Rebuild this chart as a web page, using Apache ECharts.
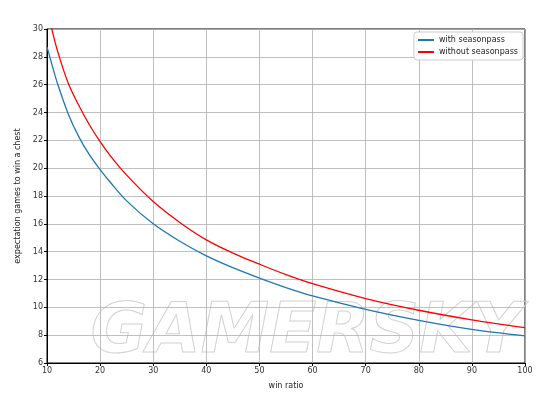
<!DOCTYPE html>
<html>
<head>
<meta charset="utf-8">
<script src="https://cdn.jsdelivr.net/npm/echarts@6/dist/echarts.min.js"></script>
<style>html,body{margin:0;padding:0;background:#fff}#c{width:550px;height:400px}</style>
</head>
<body>
<div id="c"></div>
<script>
var winRatio = [10, 11, 12, 14, 16, 18, 20, 22, 25, 30, 35, 40, 45, 50, 55, 60, 70, 80, 90, 100];
var withSeasonpass = [28.72, 27.35, 26.05, 23.9, 22.25, 20.95, 19.9, 18.95, 17.65, 16.0, 14.75, 13.7, 12.85, 12.1, 11.42, 10.82, 9.86, 9.07, 8.42, 7.95];
var withoutSeasonpass = [31.4, 29.85, 28.4, 26.1, 24.5, 23.1, 21.9, 20.85, 19.5, 17.6, 16.1, 14.85, 13.9, 13.1, 12.35, 11.7, 10.63, 9.79, 9.1, 8.54];
var seriesNames = ['with seasonpass', 'without seasonpass'];

function pairs(xs, ys) { return xs.map(function (x, i) { return [x, ys[i]]; }); }

var font = 'DejaVu Sans';
var chart = echarts.init(document.getElementById('c'), null, {renderer: 'canvas'});
chart.setOption({
  animation: false,
  textStyle: {fontFamily: font},
  grid: {left: 47, right: 25, top: 29, bottom: 37, show: true, borderColor: '#000', borderWidth: 1, backgroundColor: 'transparent'},
  xAxis: {
    type: 'value', min: 10, max: 100, interval: 10,
    name: 'win ratio', nameLocation: 'middle', nameGap: 19,
    nameTextStyle: {fontSize: 8, color: '#222', fontFamily: font},
    axisLine: {show: true, lineStyle: {color: '#000', width: 1}},
    axisTick: {show: true, inside: false, length: 3, lineStyle: {color: '#000'}},
    axisLabel: {fontSize: 8, color: '#333', margin: 4, fontFamily: font},
    splitLine: {show: true, lineStyle: {color: '#b0b0b0', width: 0.8}}
  },
  yAxis: {
    type: 'value', min: 6, max: 30, interval: 2,
    name: 'expectation games to win a chest', nameLocation: 'middle', nameGap: 21, nameRotate: 90,
    nameTextStyle: {fontSize: 8, color: '#222', fontFamily: font},
    axisLine: {show: true, lineStyle: {color: '#000', width: 1}},
    axisTick: {show: true, inside: false, length: 3, lineStyle: {color: '#000'}},
    axisLabel: {fontSize: 8, color: '#333', margin: 4, fontFamily: font},
    splitLine: {show: true, lineStyle: {color: '#b0b0b0', width: 0.8}}
  },
  legend: {
    orient: 'vertical', right: 27, top: 32,
    backgroundColor: '#fff', borderColor: '#ccc', borderWidth: 1, borderRadius: 3,
    padding: [4, 5, 4, 4], itemGap: 4, itemWidth: 16, itemHeight: 2,
    textStyle: {fontSize: 8, color: '#222', fontFamily: font},
    data: [{name: seriesNames[0], icon: 'rect'}, {name: seriesNames[1], icon: 'rect'}]
  },
  graphic: [{
    type: 'text', left: 90, top: 299, silent: true, z: 0,
    style: {text: 'GAMERSKY', font: 'italic bold 69px "DejaVu Sans"', fill: 'rgba(255,255,255,0)', stroke: '#d2d2d2', lineWidth: 1}
  }],
  series: [
    {name: seriesNames[0], type: 'line', data: pairs(winRatio, withSeasonpass), smooth: 0.35, showSymbol: false, symbol: 'none', lineStyle: {color: '#1f77b4', width: 1.3}, itemStyle: {color: '#1f77b4'}, clip: true},
    {name: seriesNames[1], type: 'line', data: pairs(winRatio, withoutSeasonpass), smooth: 0.35, showSymbol: false, symbol: 'none', lineStyle: {color: '#ff0000', width: 1.3}, itemStyle: {color: '#ff0000'}, clip: true}
  ]
});
</script>
</body>
</html>
